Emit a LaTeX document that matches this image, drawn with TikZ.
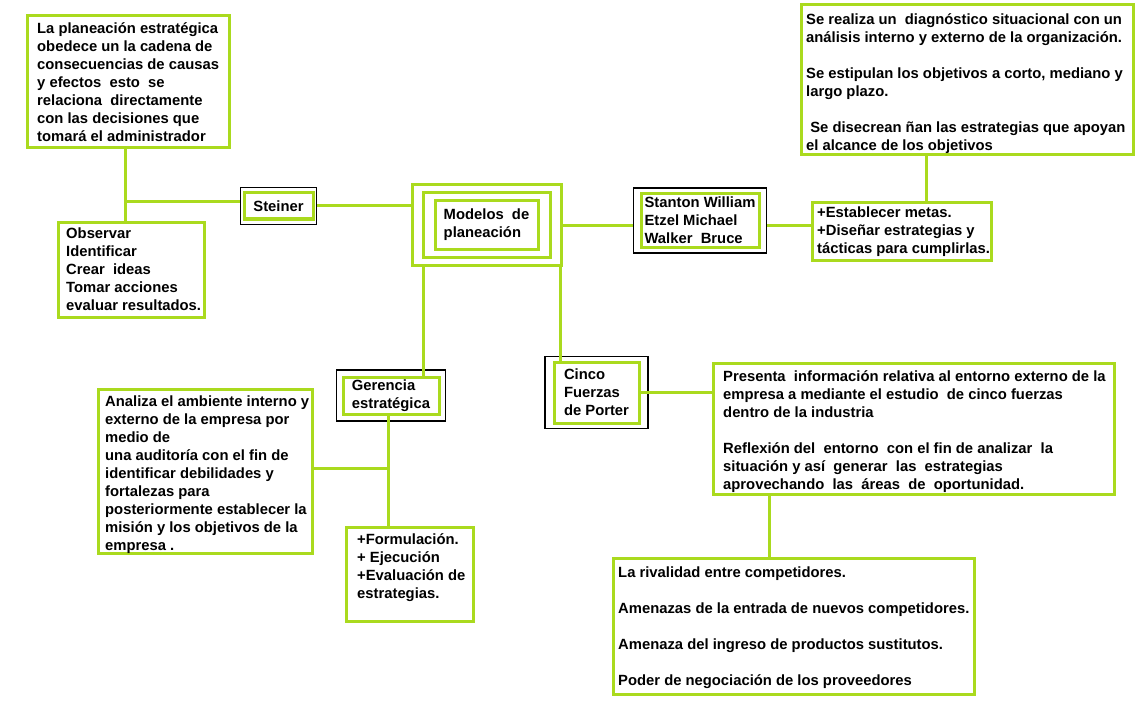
\documentclass[tikz,border=0pt]{standalone}
\usepackage{fontspec}
\setmainfont{Liberation Sans}
\usetikzlibrary{fit,positioning}
\definecolor{lima}{RGB}{170,218,30}
\newcommand{\boxfont}{\fontsize{14.8}{18}\selectfont\bfseries}

\begin{document}
\begin{tikzpicture}[x=1pt, y=-1pt,
    every node/.style={font=\boxfont},
    gbox/.style={draw=lima, line width=3pt, inner sep=0pt, align=left},
    bframe/.style={draw=black, line width=1.1pt},
    txt/.style={align=left, inner sep=0pt, anchor=north west, execute at begin node=\strut},
    link/.style={draw=lima, line width=3pt}]
  \useasboundingbox (0,0) rectangle (1140,714);

  % ---- central model ----
  \node[gbox, minimum width=103, minimum height=48] (modin) at (486.5,225) {Modelos~~de\\planeación};
  \node[gbox, fit=(modin), inner xsep=10.5, inner ysep=6.5] (modmid) {};
  \node[gbox, fit=(modmid), inner xsep=9.5, inner ysep=6.5] (modout) {};

  % ---- Steiner (left) ----
  \node[gbox, minimum width=69, minimum height=26] (steinerin) at (278.5,206) {Steiner};
  \node[bframe, fit=(steinerin), inner xsep=2, inner ysep=4] (steinerout) {};
  \node[gbox, minimum width=202, minimum height=132] (causas) at (128,82) {};
  \node[txt] (causastxt) at ([shift={(11.5,8)}]causas.north west)
    {La planeación estratégica\\obedece un la cadena de\\consecuencias de causas\\y efectos~~esto~~se\\relaciona~~directamente\\con las decisiones que\\tomará el administrador};
  \node[gbox, minimum width=146, minimum height=95] (observar) at (131,269.5) {};
  \node[txt] (observartxt) at ([shift={(9.5,7)}]observar.north west)
    {Observar\\Identificar\\Crear~~ideas\\Tomar acciones\\evaluar resultados.};

  % ---- Stanton (right) ----
  \node[gbox, minimum width=118, minimum height=53] (stantonin) at (700,220.5) {Stanton William\\Etzel Michael\\Walker~~Bruce};
  \node[bframe, fit=(stantonin), inner xsep=6, inner ysep=4.5] (stantonout) {};
  \node[gbox, minimum width=179, minimum height=57] (establecer) at (901.5,231.5) {};
  \node[txt] (establecertxt) at ([shift={(6.5,5.5)}]establecer.north west)
    {+Establecer metas.\\+Diseñar estrategias y\\tácticas para cumplirlas.};
  \node[gbox, minimum width=332, minimum height=150] (diagnostico) at (967,80) {};
  \node[txt] (diagnosticotxt) at ([shift={(6.5,9.5)}]diagnostico.north west)
    {Se realiza un~~diagnóstico situacional con un\\análisis interno y externo de la organización.\\[18pt]Se estipulan los objetivos a corto, mediano y\\largo plazo.\\[18pt]~Se disecrean ñan las estrategias que apoyan\\el alcance de los objetivos};

  % ---- Gerencia (bottom left) ----
  \node[gbox, minimum width=96, minimum height=37] (gerin) at (391,395.5) {Gerencia\\estratégica};
  \node[bframe, fit=(gerin), inner xsep=5, inner ysep=5.5] (gerout) {};
  \node[gbox, minimum width=214, minimum height=164] (analiza) at (205,471) {};
  \node[txt] (analizatxt) at ([shift={(8.5,8)}]analiza.north west)
    {Analiza el ambiente interno y\\externo de la empresa por\\medio de\\una auditoría con el fin de\\identificar debilidades y\\fortalezas para\\posteriormente establecer la\\misión y los objetivos de la\\empresa .};
  \node[gbox, minimum width=127, minimum height=94] (formulacion) at (409.5,574) {};
  \node[txt] (formulaciontxt) at ([shift={(12.5,8)}]formulacion.north west)
    {+Formulación.\\+ Ejecución\\+Evaluación de\\estrategias.};

  % ---- Porter (bottom right) ----
  \node[gbox, minimum width=85, minimum height=61] (cincoin) at (596.5,392.5) {Cinco\\Fuerzas\\de Porter};
  \node[bframe, fit=(cincoin), inner xsep=7.5, inner ysep=4] (cincoout) {};
  \node[gbox, minimum width=401, minimum height=131] (presenta) at (913.5,428.5) {};
  \node[txt] (presentatxt) at ([shift={(11.5,8.5)}]presenta.north west)
    {Presenta~~información relativa al entorno externo de la\\empresa a mediante el estudio~~de cinco fuerzas\\dentro de la industria\\[18pt]Reflexión del~~entorno~~con el fin de analizar~~la\\situación y así~~generar~~las~~estrategias\\aprovechando~~las~~áreas~~de~~oportunidad.};
  \node[gbox, minimum width=361, minimum height=136] (rivalidad) at (793.5,626) {};
  \node[txt] (rivalidadtxt) at ([shift={(6.5,10)}]rivalidad.north west)
    {La rivalidad entre competidores.\\[18pt]Amenazas de la entrada de nuevos competidores.\\[18pt]Amenaza del ingreso de productos sustitutos.\\[18pt]Poder de negociación de los proveedores};

  % ---- connectors ----
  \coordinate (jsteiner) at (125,202);
  \coordinate (jdiag) at (926,180);
  \coordinate (jger) at (423,300);
  \coordinate (jcinco) at (560,300);
  \coordinate (jform) at (388,468);
  \coordinate (jriv) at (769,525);
  \draw[link] (causas.south -| jsteiner) -- (observar.north -| jsteiner);
  \draw[link] (jsteiner) -- (jsteiner -| steinerout.west);
  \draw[link] (steinerout.east) -- (steinerout.east -| modout.west);
  \draw[link] (modout.east) -- (modout.east -| stantonout.west);
  \draw[link] (stantonout.east |- modout.east) -- (establecer.west |- modout.east);
  \draw[link] (diagnostico.south -| jdiag) -- (establecer.north -| jdiag);
  \draw[link] (modout.south -| jger) -- (gerin.north -| jger);
  \draw[link] (modout.south -| jcinco) -- (cincoin.north -| jcinco);
  \draw[link] (gerin.south -| jform) -- (formulacion.north -| jform);
  \draw[link] (analiza.east |- jform) -- (jform);
  \draw[link] (cincoin.east) -- (cincoin.east -| presenta.west);
  \draw[link] (presenta.south -| jriv) -- (rivalidad.north -| jriv);
\end{tikzpicture}
\end{document}
